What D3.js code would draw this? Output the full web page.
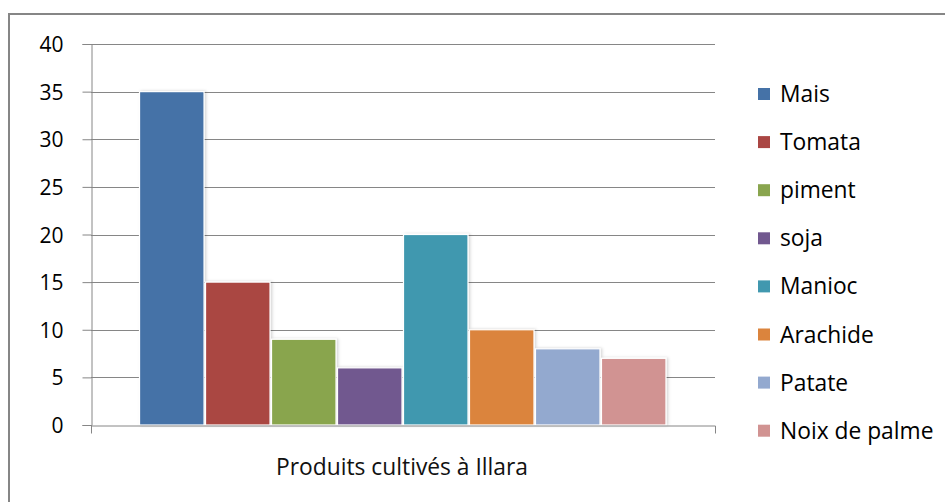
<!DOCTYPE html>
<html><head><meta charset="utf-8">
<script src="https://cdn.jsdelivr.net/npm/d3@7"></script>
<style>
body{margin:0;background:#fff;}
svg{display:block;font-family:"Open Sans",sans-serif;}
</style></head>
<body>
<svg id="c" width="945" height="502"></svg>
<script>
const categories = ["Produits cultivés à Illara"];
const series = ["Mais","Tomata","piment","soja","Manioc","Arachide","Patate","Noix de palme"];
const values = [35,15,9,6,20,10,8,7];
const colors = ["#4572A7","#AA4643","#89A54E","#71588F","#4198AF","#DB843D","#93A9CF","#D19392"];
const yTicks = [0,5,10,15,20,25,30,35,40];

(function(){
const FS = 21, FL = 22.8;
const svg = d3.select("#c");
const defs = svg.append("defs");
const f = defs.append("filter").attr("id","sh").attr("x","-10%").attr("y","-10%").attr("width","130%").attr("height","130%");
f.append("feDropShadow").attr("dx",1.5).attr("dy",0).attr("stdDeviation",1.5).attr("flood-color","#000").attr("flood-opacity",0.18);

svg.append("rect").attr("x",9).attr("y",14).attr("width",960).attr("height",520)
  .attr("fill","#fff").attr("stroke","#868686").attr("stroke-width",2);

const pL = 91, pR = 715, pT = 44, pB = 425;
const y = d3.scaleLinear().domain([0,40]).range([pB, pT]);
const x0 = d3.scaleBand().domain(categories).range([pL, pR]).paddingInner(0).paddingOuter(0.091);
const x1 = d3.scaleBand().domain(series).range([0, x0.bandwidth()]).padding(0);

svg.append("g").selectAll("line").data(yTicks.filter(d=>d>0)).join("line")
  .attr("x1",pL).attr("x2",pR).attr("y1",d=>Math.round(y(d))+0.5).attr("y2",d=>Math.round(y(d))+0.5)
  .attr("stroke","#868686").attr("stroke-width",1);

const ya = svg.append("g").attr("transform",`translate(${pL+0.5},0)`)
  .call(d3.axisLeft(y).tickValues(yTicks).tickSize(9).tickPadding(19).tickFormat(d3.format("d")));
ya.select(".domain").attr("stroke","#868686");
ya.selectAll(".tick line").attr("stroke","#868686");
ya.selectAll(".tick text").attr("font-size",FS).attr("fill","#000").attr("font-family","'Open Sans',sans-serif").attr("dy","0.36em");

svg.append("g").selectAll("rect").data(series).join("rect")
  .attr("x",(d)=>x0(categories[0])+x1(d)+0.5)
  .attr("y",(d,i)=>y(values[i]))
  .attr("width",x1.bandwidth()-1.5)
  .attr("height",(d,i)=>y(0)-y(values[i]))
  .attr("fill",(d,i)=>colors[i])
  .attr("stroke","#fff").attr("stroke-width",1.2)
  .attr("filter","url(#sh)");

const xa = svg.append("g").attr("transform",`translate(0,${pB+0.5})`)
  .call(d3.axisBottom(x0).tickValues([]).tickSizeOuter(8));
xa.select(".domain").attr("stroke","#868686");
svg.append("text").attr("x",(pL+pR)/2 - 1).attr("y",475).attr("text-anchor","middle")
  .attr("font-size",FL).attr("fill","#111").text(categories[0]);

const lg = svg.append("g").selectAll("g").data(series).join("g")
  .attr("transform",(d,i)=>`translate(758,${94+i*48.1})`);
lg.append("rect").attr("x",0).attr("y",-6).attr("width",12).attr("height",12).attr("fill",(d,i)=>colors[i]);
lg.append("text").attr("x",22).attr("y",8).attr("font-size",FL).attr("fill","#000").text(d=>d);
})();
</script>
</body></html>
